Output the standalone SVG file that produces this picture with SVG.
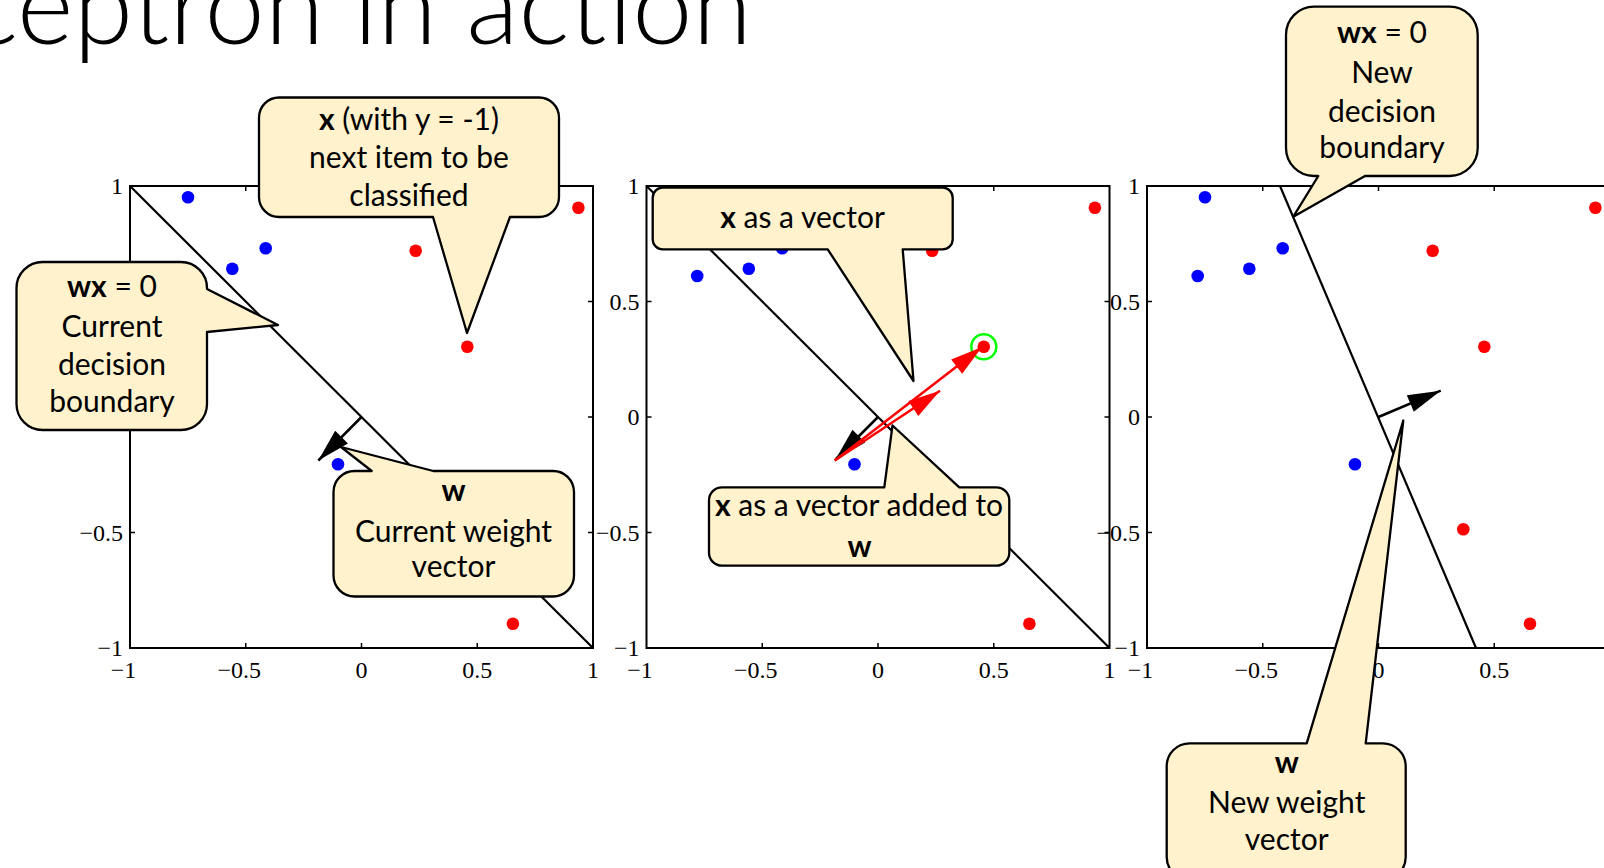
<svg xmlns="http://www.w3.org/2000/svg" width="1604" height="868" viewBox="0 0 1604 868">
<defs>
<style>
.ax{fill:none;stroke:#000;stroke-width:2}
.tk{stroke:#000;stroke-width:1.5}
.bd{stroke:#000;stroke-width:2.2;fill:none}
.lbl{font-family:"Liberation Serif",serif;font-size:24px;fill:#000}
.xl{text-anchor:middle}
.yl{text-anchor:end}
.co{fill:#FFF2CC;stroke:#000;stroke-width:2.3;stroke-linejoin:round}
.ct{font-family:Lato,"Liberation Sans",sans-serif;font-size:30px;fill:#000;text-anchor:middle}
.b{font-weight:bold}
.blue{fill:#0000FF}
.red{fill:#FF0000}
.wv{stroke:#000;stroke-width:2.5;fill:none;marker-end:url(#ahk)}
.xv{stroke:#FF0000;stroke-width:2.5;fill:none;marker-end:url(#ahr)}
.title{font-family:Lato,"Liberation Sans",sans-serif;font-weight:300;font-size:108px;fill:#000;text-anchor:end}
</style>
<marker id="ahk" markerUnits="userSpaceOnUse" markerWidth="36" markerHeight="24" viewBox="-34 -12 36 24" refX="0" refY="0" orient="auto"><path d="M0,0 L-33,-9 L-33,9 Z" fill="#000"/></marker>
<marker id="ahr" markerUnits="userSpaceOnUse" markerWidth="36" markerHeight="24" viewBox="-34 -12 36 24" refX="0" refY="0" orient="auto"><path d="M0,0 L-32,-9 L-32,9 Z" fill="#FF0000"/></marker>
</defs>
<rect width="1604" height="868" fill="#fff"/>
<text class="title" x="752" y="44">Perceptron in action</text>

<!-- Plot 1 -->
<g id="plot1">
<rect class="ax" x="130" y="186" width="463" height="462"/>
<path class="tk" d="M245.75,186v5M361.5,186v5M477.25,186v5M245.75,648v-5M361.5,648v-5M477.25,648v-5M130,301.5h5M130,417h5M130,532.5h5M593,301.5h-5M593,417h-5M593,532.5h-5"/>
<g class="lbl">
<text class="xl" x="123.5" y="678">−1</text><text class="xl" x="239.25" y="678">−0.5</text><text class="xl" x="361.5" y="678">0</text><text class="xl" x="477.25" y="678">0.5</text><text class="xl" x="593" y="678">1</text>
<text class="yl" x="123" y="194">1</text><text class="yl" x="123" y="540.5">−0.5</text><text class="yl" x="123" y="656">−1</text>
</g>
<line class="bd" x1="130" y1="186" x2="593" y2="648"/>
<g>
<circle class="blue" cx="188" cy="197.3" r="6.3"/><circle class="blue" cx="180.7" cy="276" r="6.3"/><circle class="blue" cx="232.3" cy="268.7" r="6.3"/><circle class="blue" cx="265.7" cy="248.3" r="6.3"/><circle class="blue" cx="338" cy="464.3" r="6.3"/>
<circle class="red" cx="415.7" cy="250.7" r="6.3"/><circle class="red" cx="467.3" cy="346.7" r="6.3"/><circle class="red" cx="578.4" cy="207.7" r="6.3"/><circle class="red" cx="446.2" cy="529.3" r="6.3"/><circle class="red" cx="512.9" cy="623.7" r="6.3"/>
</g>
</g>

<!-- Plot 2 -->
<g id="plot2">
<rect class="ax" x="646.5" y="186" width="463" height="462"/>
<path class="tk" d="M762.25,186v5M878,186v5M993.75,186v5M762.25,648v-5M878,648v-5M993.75,648v-5M646.5,301.5h5M646.5,417h5M646.5,532.5h5M1109.5,301.5h-5M1109.5,417h-5M1109.5,532.5h-5"/>
<g class="lbl">
<text class="xl" x="640" y="678">−1</text><text class="xl" x="755.75" y="678">−0.5</text><text class="xl" x="878" y="678">0</text><text class="xl" x="993.75" y="678">0.5</text><text class="xl" x="1109.5" y="678">1</text>
<text class="yl" x="639.5" y="194">1</text><text class="yl" x="639.5" y="309.5">0.5</text><text class="yl" x="639.5" y="425">0</text><text class="yl" x="639.5" y="540.5">−0.5</text><text class="yl" x="639.5" y="656">−1</text>
</g>
<line class="bd" x1="646.5" y1="186" x2="1109.5" y2="648"/>
<g>
<circle class="blue" cx="704.5" cy="197.3" r="6.3"/><circle class="blue" cx="697.2" cy="276" r="6.3"/><circle class="blue" cx="748.8" cy="268.7" r="6.3"/><circle class="blue" cx="782.2" cy="248.3" r="6.3"/><circle class="blue" cx="854.5" cy="464.3" r="6.3"/>
<circle class="red" cx="932.2" cy="250.7" r="6.3"/><circle class="red" cx="983.8" cy="346.7" r="6.3"/><circle class="red" cx="1094.9" cy="207.7" r="6.3"/><circle class="red" cx="962.7" cy="529.3" r="6.3"/><circle class="red" cx="1029.4" cy="623.7" r="6.3"/>
</g>
<circle cx="983.8" cy="346.7" r="12.5" fill="none" stroke="#00FF00" stroke-width="2.5"/>
</g>

<!-- Plot 3 -->
<g id="plot3">
<rect class="ax" x="1147" y="186" width="463" height="462"/>
<path class="tk" d="M1262.75,186v5M1378.5,186v5M1494.25,186v5M1262.75,648v-5M1378.5,648v-5M1494.25,648v-5M1147,301.5h5M1147,417h5M1147,532.5h5"/>
<g class="lbl">
<text class="xl" x="1140.5" y="678">−1</text><text class="xl" x="1256.25" y="678">−0.5</text><text class="xl" x="1378.5" y="678">0</text><text class="xl" x="1494.25" y="678">0.5</text>
<text class="yl" x="1140" y="194">1</text><text class="yl" x="1140" y="309.5">0.5</text><text class="yl" x="1140" y="425">0</text><text class="yl" x="1140" y="540.5">−0.5</text><text class="yl" x="1140" y="656">−1</text>
</g>
<line class="bd" x1="1280" y1="186" x2="1476" y2="648"/>
<g>
<circle class="blue" cx="1205" cy="197.3" r="6.3"/><circle class="blue" cx="1197.7" cy="276" r="6.3"/><circle class="blue" cx="1249.3" cy="268.7" r="6.3"/><circle class="blue" cx="1282.7" cy="248.3" r="6.3"/><circle class="blue" cx="1355" cy="464.3" r="6.3"/>
<circle class="red" cx="1432.7" cy="250.7" r="6.3"/><circle class="red" cx="1484.3" cy="346.7" r="6.3"/><circle class="red" cx="1595.4" cy="207.7" r="6.3"/><circle class="red" cx="1463.3" cy="529.3" r="6.3"/><circle class="red" cx="1530" cy="623.7" r="6.3"/>
</g>
</g>

<!-- Connectors (vectors) -->
<g id="connectors">
<line class="wv" x1="361.5" y1="417" x2="318.3" y2="460.5"/>
<line class="wv" x1="878" y1="417" x2="835.5" y2="459.5"/>
<line class="xv" x1="834.8" y1="460.5" x2="982" y2="347"/>
<line class="xv" x1="834.8" y1="460.5" x2="940" y2="390.7"/>
<line class="wv" x1="1378.5" y1="417" x2="1440.7" y2="390.7"/>
</g>

<!-- Callouts -->
<g id="callout-x">
<path class="co" d="M279,97.5 H539 A20,20 0 0 1 559,117.5 V197 A20,20 0 0 1 539,217 H510 L467,333 L433,217 H279 A20,20 0 0 1 259,197 V117.5 A20,20 0 0 1 279,97.5 Z"/>
<text class="ct" x="409" y="129.5"><tspan class="b">x</tspan> (with y = -1)</text>
<text class="ct" x="409" y="168">next item to be</text>
<text class="ct" x="409" y="206">classified</text>
</g>
<g id="callout-boundary">
<path class="co" d="M42.5,262 H181 A26,26 0 0 1 207,288 V289 L278,325 L207,332 V404 A26,26 0 0 1 181,430 H42.5 A26,26 0 0 1 16.5,404 V288 A26,26 0 0 1 42.5,262 Z"/>
<text class="ct" x="112" y="297"><tspan class="b">wx</tspan> = 0</text>
<text class="ct" x="112" y="337">Current</text>
<text class="ct" x="112" y="374.5">decision</text>
<text class="ct" x="112" y="411.5">boundary</text>
</g>
<g id="callout-w">
<path class="co" d="M354.5,471 H371.7 L341,447 L433.3,471 H553 A21,21 0 0 1 574,492 V575.5 A21,21 0 0 1 553,596.5 H354.5 A21,21 0 0 1 333.5,575.5 V492 A21,21 0 0 1 354.5,471 Z"/>
<text class="ct b" x="453.5" y="500.5">w</text>
<text class="ct" x="453.5" y="541.5">Current weight</text>
<text class="ct" x="453.5" y="576.5">vector</text>
</g>
<g id="callout-xvec">
<path class="co" d="M662.7,187.7 H942.7 A10,10 0 0 1 952.7,197.7 V239.3 A10,10 0 0 1 942.7,249.3 H902.7 L913.5,381 L827.7,249.3 H662.7 A10,10 0 0 1 652.7,239.3 V197.7 A10,10 0 0 1 662.7,187.7 Z"/>
<text class="ct" x="802.5" y="228.3"><tspan class="b">x</tspan> as a vector</text>
</g>
<g id="callout-added">
<path class="co" d="M722,487.3 H884.3 L892.5,425.5 L959.3,487.3 H996.3 A13,13 0 0 1 1009.3,500.3 V552.7 A13,13 0 0 1 996.3,565.7 H722 A13,13 0 0 1 709,552.7 V500.3 A13,13 0 0 1 722,487.3 Z"/>
<text class="ct" x="859" y="516"><tspan class="b">x</tspan> as a vector added to</text>
<text class="ct b" x="859.5" y="557.3">w</text>
</g>
<g id="callout-newboundary">
<path class="co" d="M1314,6.7 H1449.7 A28,28 0 0 1 1477.7,34.7 V148 A28,28 0 0 1 1449.7,176 H1365 L1293.3,216.7 L1318.3,176 H1314 A28,28 0 0 1 1286,148 V34.7 A28,28 0 0 1 1314,6.7 Z"/>
<text class="ct" x="1382" y="43.3"><tspan class="b">wx</tspan> = 0</text>
<text class="ct" x="1382" y="83.3">New</text>
<text class="ct" x="1382" y="121.7">decision</text>
<text class="ct" x="1382" y="158.3">boundary</text>
</g>
<g id="callout-neww">
<path class="co" d="M1189.7,743.3 H1306.7 L1403.3,420.5 L1365.7,743.3 H1382.7 A23,23 0 0 1 1405.7,766.3 V857 A23,23 0 0 1 1382.7,880 H1189.7 A23,23 0 0 1 1166.7,857 V766.3 A23,23 0 0 1 1189.7,743.3 Z"/>
<text class="ct b" x="1286.7" y="772.7">w</text>
<text class="ct" x="1286.7" y="813.3">New weight</text>
<text class="ct" x="1286.7" y="850">vector</text>
</g>
</svg>
